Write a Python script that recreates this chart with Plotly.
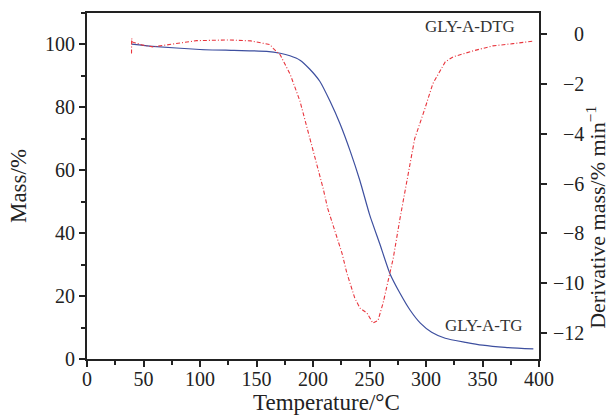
import plotly.graph_objects as go

# TG curve (mass %)
tg_temp = [39.5, 58, 100, 130, 159, 171, 179.6, 188.5, 197, 206, 215, 224, 233, 241.6, 250,
           259, 268, 277, 286, 295, 305, 317, 335, 350, 370, 395]
tg_mass = [100.1, 99.4, 98.4, 98.1, 97.8, 97.2, 96.4, 95.0, 92.2, 88.3, 82.0, 74.7, 66.0, 56.6,
           46.0, 36.7, 27.2, 20.9, 15.5, 11.4, 8.5, 6.6, 5.3, 4.4, 3.7, 3.2]

# DTG curve (derivative mass %/min)
dtg_temp = [39.4, 39.5, 40.5, 49.6, 58, 64.6, 79.6, 97, 126, 145, 162, 165, 171, 180,
            188.5, 195, 200, 204.4, 209, 213, 219.5, 225.7, 230, 237, 241.6, 247.8,
            253, 257.5, 262, 266, 271, 277, 283, 290, 299, 306, 317, 324, 341.6,
            359, 377, 394.7]
dtg_val = [-0.78, -0.18, -0.33, -0.45, -0.52, -0.48, -0.39, -0.27, -0.24, -0.28, -0.43,
           -0.59, -0.84, -1.64, -2.7, -3.8, -4.6, -5.4, -6.2, -7.0, -7.9, -8.8, -9.6,
           -10.6, -11.0, -11.2, -11.6, -11.5, -10.8, -10.0, -9.0, -7.4, -5.9, -4.2,
           -3.0, -2.0, -1.12, -0.92, -0.68, -0.48, -0.39, -0.29]

x_ticks = [0, 50, 100, 150, 200, 250, 300, 350, 400]
y_ticks = [0, 20, 40, 60, 80, 100]
y2_ticks = [0, -2, -4, -6, -8, -10, -12]
y2_labels = ["0", "\u22122", "\u22124", "\u22126", "\u22128", "\u221210", "\u221212"]

FONT = "Liberation Serif"
AX = "#222222"
TXT = "#222222"

fig = go.Figure()
fig.add_trace(go.Scatter(x=tg_temp, y=tg_mass, mode="lines", name="GLY-A-TG",
                         line=dict(color="#3d4f9f", width=1.2, shape="spline", smoothing=0.5)))
fig.add_trace(go.Scatter(x=dtg_temp, y=dtg_val, mode="lines", name="GLY-A-DTG", yaxis="y2",
                         line=dict(color="#e8353d", width=1.1, dash="4px,2px,1px,2px")))

fig.update_layout(
    width=610, height=415,
    margin=dict(l=87, r=71, t=11, b=56),
    plot_bgcolor="white", paper_bgcolor="white",
    showlegend=False,
    font=dict(family=FONT, size=20, color=TXT),
    xaxis=dict(range=[0, 400], tickvals=x_ticks, ticks="outside", ticklen=6, tickwidth=1.5,
               tickcolor=AX, showline=True, linecolor=AX, linewidth=2, mirror=True,
               showgrid=False, zeroline=False, ticklabelstandoff=-5,
               minor=dict(dtick=25, tick0=0, ticks="outside", ticklen=4, tickwidth=1.5, tickcolor=AX),
               tickfont=dict(size=20)),
    yaxis=dict(range=[0, 110], tickvals=y_ticks, ticks="outside", ticklen=6, tickwidth=1.5,
               tickcolor=AX, showline=True, linecolor=AX, linewidth=2,
               showgrid=False, zeroline=False,
               minor=dict(dtick=10, tick0=0, ticks="outside", ticklen=4, tickwidth=1.5, tickcolor=AX),
               tickfont=dict(size=20),
               title=dict(text="Mass/%", font=dict(size=23), standoff=12)),
    yaxis2=dict(range=[-13.04, 0.84], overlaying="y", side="right", tickvals=y2_ticks,
                ticks="outside", ticklen=6, tickwidth=1.5, tickcolor=AX, showticklabels=False,
                showline=True, linecolor=AX, linewidth=2, showgrid=False, zeroline=False),
)

# right-aligned tick labels of the right axis (placed through the y2 scale)
for v, lab in zip(y2_ticks, y2_labels):
    fig.add_annotation(text=lab, xref="paper", yref="y2", x=(586 - 87) / 452, y=v,
                       xanchor="right", yanchor="middle", showarrow=False,
                       font=dict(size=20, family=FONT, color=TXT))

fig.add_annotation(text="Temperature/°C", xref="paper", yref="paper",
                   x=(326 - 87) / 452, y=-(403 - 359) / 348, xanchor="center", yanchor="middle",
                   showarrow=False, font=dict(size=23, family=FONT, color=TXT))
fig.add_annotation(text="Derivative mass/% min<sup>\u22121</sup>", xref="paper", yref="paper",
                   x=(596 - 87) / 452, y=1 - (217 - 11) / 348, xanchor="center", yanchor="middle",
                   textangle=-90, showarrow=False,
                   font=dict(size=22, family=FONT, color=TXT))
fig.add_annotation(text="GLY-A-DTG", xref="paper", yref="paper",
                   x=(517 - 87) / 452, y=1 - (25 - 11) / 348, xanchor="right", yanchor="middle",
                   showarrow=False, font=dict(size=17, family=FONT, color="#333333"))
fig.add_annotation(text="GLY-A-TG", xref="paper", yref="paper",
                   x=(525 - 87) / 452, y=1 - (325 - 11) / 348, xanchor="right", yanchor="middle",
                   showarrow=False, font=dict(size=17, family=FONT, color="#333333"))

fig.write_html("out.html")
